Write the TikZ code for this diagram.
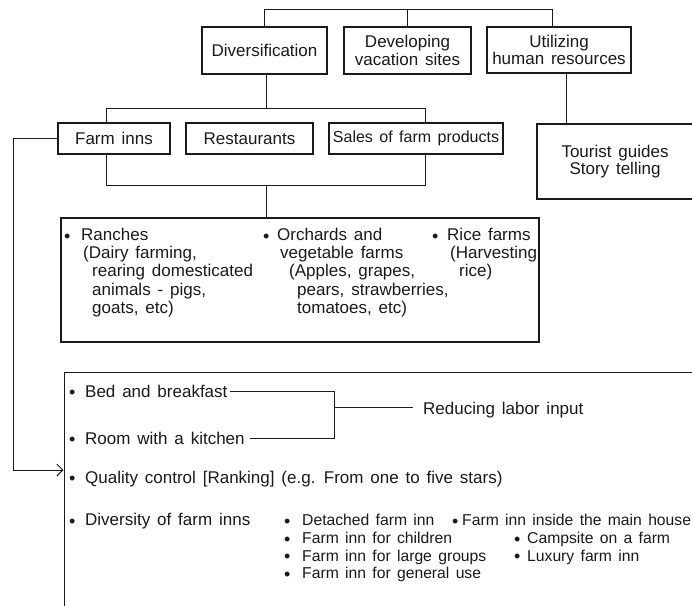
\documentclass[tikz,border=0pt]{standalone}
\usepackage{fontspec}
\setmainfont{Liberation Sans}[WordSpace=1.45]
\usetikzlibrary{arrows.meta}
\definecolor{ink}{HTML}{1A1A1A}
\newcommand\bl[1]{\makebox[#1pt][l]{\raisebox{-1.8pt}{\fontsize{18}{18}\selectfont •}}}
\begin{document}
\begin{tikzpicture}[x=1pt,y=-1pt,
  box/.style={draw=ink, line width=1.2pt, inner sep=0pt, align=center, text=ink, font=\fontsize{17}{17.5}\selectfont},
  txt/.style={anchor=base west, inner sep=0pt, text=ink, font=\fontsize{17}{17}\selectfont},
  sub/.style={anchor=base west, inner sep=0pt, text=ink, font=\fontsize{15.7}{16}\selectfont},
  con/.style={draw=ink, line width=0.9pt},
  tip/.style={-{Straight Barb[length=6pt,width=12pt,line width=0.9pt]}}
]
\useasboundingbox (0,0) rectangle (692,605);
\clip (0,0) rectangle (692,605);
\fill[white] (0,0) rectangle (692,605);

% top level
\node[box, minimum width=125pt, minimum height=47pt] (div) at (264.5,50.5) {Diversification};
\node[box, minimum width=127pt, minimum height=47pt] (dev) at (407.5,50.5) {Developing\\vacation sites};
\node[box, minimum width=144pt, minimum height=46pt] (util) at (559,50) {Utilizing\\human resources};
\coordinate (tl) at (264.5,9);
\coordinate (tr) at (552,9);
\draw[con] (div.north) -- (tl) -- (tr) -- (tr |- util.north);
\draw[con] (dev.north) -- (dev.north |- tl);

% second level
\node[box, minimum width=112pt, minimum height=31pt] (fi) at (114,138.5) {Farm inns};
\node[box, minimum width=127pt, minimum height=31pt] (rest) at (249.5,138.5) {Restaurants};
\node[box, minimum width=174pt, minimum height=31pt, font=\fontsize{16}{16}\selectfont] (sales) at (416,138.5) {Sales of farm products};
\coordinate (b1l) at (106,108);
\coordinate (b1r) at (425,108);
\draw[con] ([xshift=1.5pt]div.south) -- ([xshift=1.5pt]div.south |- b1l);
\draw[con] (b1l |- fi.north) -- (b1l) -- (b1r) -- (b1r |- sales.north);
\coordinate (b2l) at (106,185);
\coordinate (b2r) at (425,185);
\draw[con] (b2l |- fi.south) -- (b2l) -- (b2r) -- (b2r |- sales.south);

% tourist
\node[box, minimum width=156pt, minimum height=75pt] (tour) at (615,161.5) {Tourist guides\\Story telling};
\draw[con] ([xshift=7pt]util.south) -- ([xshift=7pt]util.south |- tour.north);

% lower box
\node[box, minimum width=478pt, minimum height=124pt] (lbox) at (300,280) {};
\draw[con] ([xshift=1.5pt]div.south |- b2l) -- ([xshift=1.5pt]div.south |- lbox.north);

\node[txt] (r1) at (64,240.5) {\bl{17}Ranches};
\node[txt] (r2) at (83,258.5) {(Dairy farming,};
\node[txt] (r3) at (92,276.5) {rearing domesticated};
\node[txt] (r4) at (92,295) {animals - pigs,};
\node[txt] (r5) at (92,313.5) {goats, etc)};
\node[txt] (o1) at (263,240.5) {\bl{14}Orchards and};
\node[txt] (o2) at (280,258.5) {vegetable farms};
\node[txt] (o3) at (289,276.5) {(Apples, grapes,};
\node[txt] (o4) at (297,295) {pears, strawberries,};
\node[txt] (o5) at (297,313.5) {tomatoes, etc)};
\node[txt] (c1) at (432,240.5) {\bl{15}Rice farms};
\node[txt] (c2) at (450,258.5) {(Harvesting};
\node[txt] (c3) at (459,276.5) {rice)};

% big bottom box
\node[draw=ink, line width=1.2pt, inner sep=0pt, minimum width=660pt, minimum height=260pt, anchor=north west] (big) at (63.5,372) {};
\coordinate (corner) at (13,470);
\coordinate (ain) at (63.5,470);
\draw[con, tip] (fi.west) -| (corner) -- (ain);

\node[txt] (bed) at (69,397) {\bl{16}Bed and breakfast};
\node[txt] (room) at (69,444) {\bl{16}Room with a kitchen};
\node[txt] (red) at (423,414.5) {Reducing labor input};
\coordinate (bj) at (334,407);
\draw[con] ([xshift=2pt]bed.east) -| (bj |- room.east) -- ([xshift=5pt]room.east);
\draw[con] (bj) -- ([xshift=-10pt]red.west |- bj);

\node[txt] (qc) at (69,483) {\bl{16}Quality control [Ranking] (e.g. From one to five stars)};
\node[txt] (dv) at (69,525.5) {\bl{16}Diversity of farm inns};
\node[sub] (s1) at (284,525.5) {\bl{18}Detached farm inn};
\node[sub] (s2) at (284,543.5) {\bl{18}Farm inn for children};
\node[sub] (s3) at (284,561) {\bl{18}Farm inn for large groups};
\node[sub] (s4) at (284,578.5) {\bl{18}Farm inn for general use};
\node[sub] (s5) at (452,525.5) {\bl{10}Farm inn inside the main house};
\node[sub] (s6) at (514,543.5) {\bl{13}Campsite on a farm};
\node[sub] (s7) at (514,561) {\bl{13}Luxury farm inn};
\end{tikzpicture}
\end{document}
